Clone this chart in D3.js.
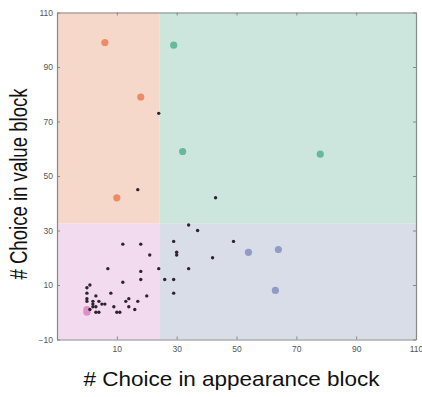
<!DOCTYPE html>
<html><head><meta charset="utf-8">
<script src="https://cdn.jsdelivr.net/npm/d3@7"></script>
<style>html,body{margin:0;padding:0;background:#fff;}svg{display:block;}</style>
</head><body>
<svg id="c" width="422" height="397"></svg>
<script>
// ---- data ----
const xTicks = [10, 30, 50, 70, 90, 110];
const yTicks = [-10, 10, 30, 50, 70, 90, 110];
const xSplit = 24.2, ySplit = 32.5;
const orangePts = [[6, 99], [18, 79], [10, 42]];
const greenPts = [[29, 98], [32, 59], [78, 58]];
const bluePts = [[54, 22], [64, 23], [63, 8]];
const pinkPts = [[0, 0], [0, 1]];
const blackPts = [
  [24, 73], [17, 45], [43, 42], [34, 32], [37, 30], [29, 26], [49, 26],
  [30, 22], [30, 21], [42, 20], [21, 21], [12, 25], [18, 25], [24, 16],
  [34, 16], [7, 16], [18, 15], [18, 12], [26, 12], [29, 12], [29, 7],
  [12, 11], [1, 10], [0, 9], [0, 7], [8, 7], [3, 6], [20, 6], [0, 5],
  [0, 4], [14, 5], [4, 4], [13, 4], [17, 4], [2, 4], [2, 3], [5, 3],
  [6, 3], [2, 2], [3, 2], [9, 2], [14, 2], [16, 1], [3, 0], [4, 0],
  [10, 0], [11, 0], [1, 1]
];

// ---- layout ----
const svg = d3.select("#c");
const x = d3.scaleLinear().domain([-10, 110]).range([57, 416]);
const y = d3.scaleLinear().domain([-10, 110]).range([339.5, 12.5]);

const regions = [
  {x0: -10, x1: xSplit, y0: ySplit, y1: 110, c: "#f6d8cb"},
  {x0: xSplit, x1: 110, y0: ySplit, y1: 110, c: "#cde6dd"},
  {x0: -10, x1: xSplit, y0: -10, y1: ySplit, c: "#f2dbee"},
  {x0: xSplit, x1: 110, y0: -10, y1: ySplit, c: "#d9dde8"}
];
svg.selectAll("rect.reg").data(regions).join("rect").attr("class", "reg")
  .attr("x", d => x(d.x0)).attr("y", d => y(d.y1))
  .attr("width", d => x(d.x1) - x(d.x0)).attr("height", d => y(d.y0) - y(d.y1))
  .attr("fill", d => d.c);

// axes (ticks inward, mirrored)
const tickCol = "#888";
const fontFam = "'Liberation Sans', Arial, Helvetica, sans-serif";
const gB = svg.append("g").attr("transform", `translate(0,${y(-10)})`)
  .call(d3.axisBottom(x).tickValues(xTicks).tickSizeInner(-3).tickSizeOuter(0).tickPadding(6));
const gT = svg.append("g").attr("transform", `translate(0,${y(110)})`)
  .call(d3.axisTop(x).tickValues(xTicks).tickSizeInner(-3).tickSizeOuter(0).tickFormat(""));
const gL = svg.append("g").attr("transform", `translate(${x(-10)},0)`)
  .call(d3.axisLeft(y).tickValues(yTicks).tickSizeInner(-3).tickSizeOuter(0).tickPadding(4));
const gR = svg.append("g").attr("transform", `translate(${x(110)},0)`)
  .call(d3.axisRight(y).tickValues(yTicks).tickSizeInner(-3).tickSizeOuter(0).tickFormat(""));
[gB, gT, gL, gR].forEach(g => {
  g.select(".domain").attr("stroke", tickCol).attr("stroke-width", 1.2);
  g.selectAll(".tick line").attr("stroke", tickCol);
  g.selectAll(".tick text").attr("fill", "#555").style("font-size", "8.5px").style("font-family", fontFam);
});

// points
function dots(data, r, fill) {
  svg.append("g").selectAll("circle").data(data).join("circle")
    .attr("cx", d => x(d[0])).attr("cy", d => y(d[1])).attr("r", r).attr("fill", fill);
}
dots(orangePts, 3.6, "#ec8c66");
dots(greenPts, 3.6, "#67b99b");
dots(bluePts, 3.6, "#8f9dc6");
dots(pinkPts, 3.6, "#de8fc6");
dots(blackPts, 1.7, "#2d2430");

// titles
svg.append("text").attr("transform", "translate(231.5,386) scale(1.125,1)").attr("text-anchor", "middle")
  .style("font-family", fontFam).style("font-size", "20px").attr("fill", "#111")
  .text("# Choice in appearance block");
svg.append("text").attr("transform", "translate(26.7,184) scale(1.25,1) rotate(-90)").attr("text-anchor", "middle")
  .style("font-family", fontFam).style("font-size", "18.6px").attr("fill", "#111")
  .text("# Choice in value block");
</script>
</body></html>
